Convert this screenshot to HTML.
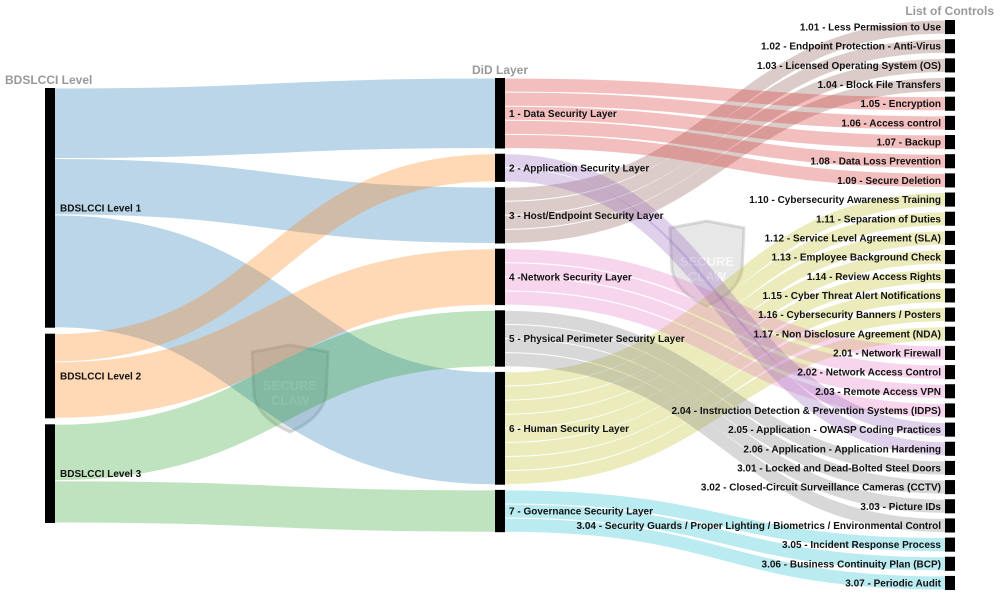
<!DOCTYPE html>
<html><head><meta charset="utf-8">
<style>
html,body{margin:0;padding:0;background:#fff;}
svg{display:block;font-family:"Liberation Sans",Arial,sans-serif;}
.lbl{font-size:10px;font-weight:bold;fill:#111;}
.ttl{font-size:12px;font-weight:bold;fill:#999;}
.wm{fill:#bbb;fill-opacity:0.35;stroke:#aaa;stroke-opacity:0.4;stroke-width:3;}
.wmt{font-size:13px;font-weight:bold;fill:#fff;fill-opacity:0.7;}
</style></head>
<body>
<svg id="chart" width="1000" height="600">
<text class="ttl" x="5" y="84">BDSLCCI Level</text>
<text class="ttl" x="472" y="74">DiD Layer</text>
<text class="ttl" x="994" y="15" text-anchor="end">List of Controls</text>
<g>
<path class="wm" d="M252,352 L290,345 L328,352 L326,395 Q322,418 290,432 Q258,418 254,395 Z"/>
<text class="wmt" x="290" y="390" text-anchor="middle">SECURE</text>
<text class="wmt" x="290" y="405" text-anchor="middle">CLAW</text>
</g>
<g>
<path class="wm" d="M670,228 L707,221 L744,228 L742,270 Q738,292 707,306 Q676,292 672,270 Z"/>
<text class="wmt" x="707" y="266" text-anchor="middle">SECURE</text>
<text class="wmt" x="707" y="281" text-anchor="middle">CLAW</text>
</g>
<g id="links"></g><g id="nodes"></g>
</svg>
<script>
const levels = ["BDSLCCI Level 1","BDSLCCI Level 2","BDSLCCI Level 3"];
const layers = ["1 - Data Security Layer","2 - Application Security Layer","3 - Host/Endpoint Security Layer","4 -Network Security Layer","5 - Physical Perimeter Security Layer","6 - Human Security Layer","7 - Governance Security Layer"];
const controls = ["1.01 - Less Permission to Use","1.02 - Endpoint Protection - Anti-Virus","1.03 - Licensed Operating System (OS)","1.04 - Block File Transfers","1.05 - Encryption","1.06 - Access control","1.07 - Backup","1.08 - Data Loss Prevention","1.09 - Secure Deletion","1.10 - Cybersecurity Awareness Training","1.11 - Separation of Duties","1.12 - Service Level Agreement (SLA)","1.13 - Employee Background Check","1.14 - Review Access Rights","1.15 - Cyber Threat Alert Notifications","1.16 - Cybersecurity Banners / Posters","1.17 - Non Disclosure Agreement (NDA)","2.01 - Network Firewall","2.02 - Network Access Control","2.03 - Remote Access VPN","2.04 - Instruction Detection & Prevention Systems (IDPS)","2.05 - Application - OWASP Coding Practices","2.06 - Application - Application Hardening","3.01 - Locked and Dead-Bolted Steel Doors","3.02 - Closed-Circuit Surveillance Cameras (CCTV)","3.03 - Picture IDs","3.04 - Security Guards / Proper Lighting / Biometrics / Environmental Control","3.05 - Incident Response Process","3.06 - Business Continuity Plan (BCP)","3.07 - Periodic Audit"];
// level index -> layer index, value
const levelLinkSrc = [0,0,0,1,1,2,2];
const levelLinkTgt = [0,2,5,1,3,4,6];
const levelLinkVal = [5,4,8,2,4,4,3];
// layer index for each control (value 1 each)
const controlLayer = [2,2,2,2,0,0,0,0,0,5,5,5,5,5,5,5,5,3,3,3,3,1,1,4,4,4,4,6,6,6];
const colors = ["#1f77b4","#ff7f0e","#2ca02c","#d62728","#9467bd","#8c564b","#e377c2","#7f7f7f","#bcbd22","#17becf"];

const NS="http://www.w3.org/2000/svg";
const unit=14.1;
function mk(tag,attrs,parent){const e=document.createElementNS(NS,tag);for(const k in attrs)e.setAttribute(k,attrs[k]);parent.appendChild(e);return e;}
const gL=document.getElementById('links'), gN=document.getElementById('nodes');

const levelVal=levels.map((_,i)=>levelLinkVal.reduce((s,v,j)=>s+(levelLinkSrc[j]===i?v:0),0));
const layerVal=layers.map((_,i)=>controlLayer.filter(c=>c===i).length);
function stack(vals,top,gap){let y=top;return vals.map(v=>{const r={y0:y,y1:y+v*unit};y=r.y1+gap;return r;});}
const levelPos=stack(levelVal,88,6);
const layerPos=stack(layerVal,78,5.2);
const ctrlPos=stack(controls.map(()=>1),20,5.07);
const X=[[45,55],[495,505],[945,955]];

function link(x0,y0,x1,y1,w,color,name){
  const xm=(x0+x1)/2;
  const p=mk('path',{d:`M${x0},${y0}C${xm},${y0} ${xm},${y1} ${x1},${y1}`,fill:'none',stroke:color,'stroke-opacity':0.3,'stroke-width':Math.max(1,w-1)},gL);
  
  
}
const srcOff=levelPos.map(p=>p.y0), tgtOff=layerPos.map(p=>p.y0);
const order1=levelLinkSrc.map((_,i)=>i).sort((a,b)=>levelLinkSrc[a]-levelLinkSrc[b]||levelLinkTgt[a]-levelLinkTgt[b]);
const tmp=[];
order1.forEach(i=>{const s=levelLinkSrc[i],w=levelLinkVal[i]*unit;tmp[i]={y0:srcOff[s]+w/2};srcOff[s]+=w;});
levelLinkSrc.map((_,i)=>i).sort((a,b)=>levelLinkTgt[a]-levelLinkTgt[b]||levelLinkSrc[a]-levelLinkSrc[b]).forEach(i=>{const t=levelLinkTgt[i],w=levelLinkVal[i]*unit;tmp[i].y1=tgtOff[t]+w/2;tgtOff[t]+=w;});
levelLinkSrc.forEach((s,i)=>link(X[0][1],tmp[i].y0,X[1][0],tmp[i].y1,levelLinkVal[i]*unit,colors[s],'link-level-to-layer'));
const lOff=layerPos.map(p=>p.y0);
controlLayer.forEach((l,c)=>{const y0=lOff[l]+unit/2;lOff[l]+=unit;const y1=(ctrlPos[c].y0+ctrlPos[c].y1)/2;link(X[1][1],y0,X[2][0],y1,unit,colors[3+l],'link-layer-to-control');});

function node(x,p,label,anchor,lx,name){
  const r=mk('rect',{x:x[0],y:p.y0,width:x[1]-x[0],height:p.y1-p.y0,fill:'#000'},gN);
  
  
  const t=mk('text',{x:lx,y:(p.y0+p.y1)/2+3.5,'text-anchor':anchor,class:'lbl'},gN);
  t.textContent=label;
  
  
}
levels.forEach((n,i)=>node(X[0],levelPos[i],n,'start',60,'level'));
layers.forEach((n,i)=>node(X[1],layerPos[i],n,'start',509,'layer'));
controls.forEach((n,i)=>node(X[2],ctrlPos[i],n,'end',941,'control'));
</script>
</body></html>
